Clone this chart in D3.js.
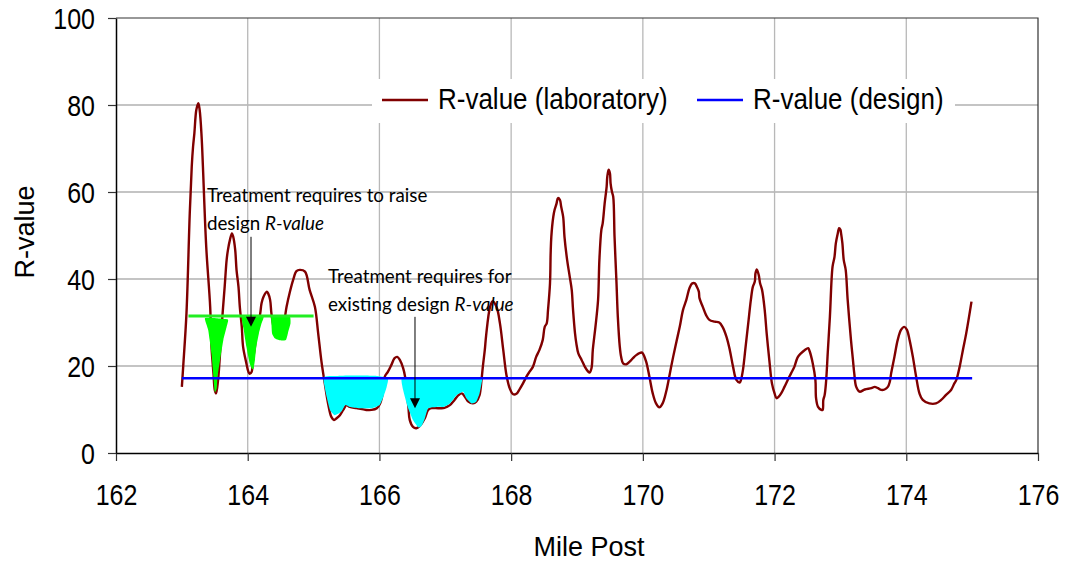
<!DOCTYPE html>
<html><head><meta charset="utf-8">
<script src="https://cdn.jsdelivr.net/npm/d3@7"></script>
<style>body{margin:0;background:#fff;} svg{display:block;}</style>
</head><body><svg id="c" width="1076" height="567"></svg>
<script>
// ---------- data ----------
const xTicks = [162,164,166,168,170,172,174,176];
const yTicks = [0,20,40,60,80,100];

const labMile = [163.00,163.02,163.07,163.12,163.15,163.17,163.19,163.22,163.25,163.27,163.30,163.32,163.37,163.43,163.45,163.48,163.50,163.52,163.55,163.58,163.60,163.65,163.68,163.70,163.73,163.76,163.78,163.81,163.83,163.86,163.88,163.91,163.93,163.98,164.01,164.03,164.06,164.08,164.11,164.13,164.19,164.21,164.24,164.29,164.31,164.34,164.36,164.40,164.45,164.50,164.55,164.59,164.64,164.69,164.74,164.79,164.87,164.94,165.02,165.07,165.12,165.17,165.22,165.27,165.31,165.35,165.40,165.45,165.50,165.55,165.65,165.80,165.88,165.96,166.01,166.06,166.08,166.13,166.18,166.23,166.27,166.31,166.36,166.39,166.41,166.44,166.46,166.51,166.56,166.61,166.69,166.74,166.79,166.89,166.97,167.02,167.07,167.14,167.20,167.25,167.30,167.35,167.42,167.47,167.52,167.55,167.57,167.60,167.62,167.68,167.72,167.78,167.83,167.88,167.93,167.98,168.03,168.08,168.13,168.18,168.23,168.28,168.33,168.38,168.43,168.48,168.51,168.54,168.56,168.59,168.60,168.61,168.64,168.66,168.69,168.71,168.74,168.76,168.79,168.81,168.85,168.89,168.92,168.94,168.97,168.99,169.02,169.07,169.12,169.17,169.19,169.22,169.24,169.28,169.32,169.34,169.37,169.39,169.42,169.45,169.46,169.48,169.50,169.51,169.53,169.55,169.57,169.60,169.62,169.65,169.67,169.70,169.75,169.80,169.85,169.90,169.98,170.00,170.05,170.10,170.15,170.20,170.25,170.30,170.36,170.41,170.46,170.51,170.56,170.61,170.66,170.71,170.75,170.79,170.82,170.85,170.86,170.91,170.96,171.01,171.09,171.16,171.21,171.27,171.32,171.37,171.42,171.47,171.49,171.52,171.56,171.60,171.64,171.67,171.70,171.71,171.73,171.76,171.78,171.81,171.85,171.88,171.92,171.96,172.00,172.03,172.06,172.10,172.15,172.20,172.25,172.30,172.35,172.40,172.46,172.51,172.53,172.58,172.62,172.63,172.66,172.71,172.73,172.74,172.76,172.78,172.81,172.84,172.88,172.91,172.93,172.96,172.98,173.00,173.01,173.03,173.05,173.08,173.11,173.16,173.19,173.21,173.24,173.29,173.37,173.47,173.52,173.57,173.62,173.67,173.72,173.75,173.77,173.82,173.87,173.92,173.97,174.01,174.05,174.10,174.15,174.20,174.25,174.35,174.45,174.53,174.60,174.68,174.73,174.76,174.81,174.86,174.91,174.99];
const labR = [15.2,19.8,32.1,55.1,65.8,70.4,73.5,78.9,80.4,78.9,72.7,65.8,47.4,33.6,24.4,18.3,14.5,13.7,16.8,22.9,28.3,38.2,44.4,46.7,49.0,50.5,49.7,46.7,42.1,38.2,33.6,29.0,24.4,20.6,18.7,18.2,18.7,21.4,24.4,27.5,32.1,34.4,35.9,37.1,36.7,35.2,32.1,28.5,27.0,27.5,30.0,33.6,37.0,39.8,41.8,42.1,41.7,37.5,33.6,27.5,21.0,16.0,11.4,8.3,7.6,8.0,8.7,9.9,11.0,10.6,10.3,9.9,9.9,10.3,11.4,14.5,17.5,18.7,20.2,21.8,22.1,21.4,19.5,17.5,14.5,10.6,7.6,6.0,5.7,6.2,8.0,9.9,10.3,10.3,10.3,10.6,11.0,12.2,13.3,13.7,12.9,11.8,11.4,11.8,13.3,16.8,19.8,23.7,27.0,33.6,34.9,33.5,29.8,23.7,17.8,14.8,13.5,13.6,14.7,16.0,17.5,18.7,19.8,22.1,23.7,26.0,29.0,29.8,32.9,39.0,45.9,49.7,54.3,55.9,57.4,58.6,58.2,56.6,54.3,49.7,44.4,40.5,37.5,32.9,27.5,25.2,22.9,21.4,19.8,18.7,18.5,19.5,23.7,29.0,35.2,44.4,51.3,52.8,57.4,61.2,63.5,65.1,64.3,62.0,60.1,58.9,49.7,39.0,31.3,24.4,22.1,20.6,20.4,21.0,21.8,22.5,23.1,22.9,21.0,17.5,13.7,11.4,10.5,11.4,14.5,18.3,22.1,25.6,29.0,32.9,35.2,38.0,39.0,39.0,38.2,37.1,35.6,33.6,31.7,30.6,30.2,30.0,29.0,26.7,23.7,19.8,16.8,16.2,16.8,19.1,24.4,29.8,35.2,38.2,39.4,41.3,42.2,40.9,39.0,37.5,32.9,27.5,21.4,16.0,13.7,12.6,12.9,13.7,15.2,16.8,18.3,19.8,22.0,22.9,23.7,24.1,23.5,20.6,16.8,12.6,10.6,9.9,9.9,12.2,13.3,16.0,23.7,31.3,42.8,45.1,48.2,50.5,51.7,51.3,50.5,48.2,44.4,42.1,35.2,26.0,21.4,18.3,15.2,14.1,14.6,14.9,15.2,14.9,14.5,14.6,15.2,16.4,18.3,22.1,26.0,28.3,29.0,28.3,26.0,22.1,17.5,13.7,12.2,11.4,11.4,12.2,13.3,14.5,16.0,16.8,19.8,23.7,27.5,34.8];

const designMile = [163.0, 175.0];
const designR = [17.2, 17.2];

const raiseMile = [163.1, 165.0];
const raiseR = [31.5, 31.5];

// hand-drawn treatment zones (mile, R)
const greenZone1 = [[163.35,31.0],[163.52,31.0],[163.70,30.7],[163.68,29.0],[163.63,26.0],[163.58,21.4],[163.54,17.5],[163.53,14.9],[163.50,14.0],[163.48,17.5],[163.45,22.9],[163.40,28.3]];
const greenZone2 = [[163.91,31.3],[164.08,31.3],[164.24,31.3],[164.21,29.8],[164.17,27.5],[164.13,24.4],[164.11,21.4],[164.09,19.5],[164.07,19.3],[164.03,20.6],[163.98,24.4],[163.94,28.3]];
const greenZone3 = [[164.36,31.3],[164.50,31.3],[164.64,31.3],[164.65,29.8],[164.61,27.5],[164.58,26.0],[164.49,25.9],[164.41,26.4],[164.37,27.5],[164.36,29.8]];
const cyanZone1 = [[165.15,17.4],[165.35,17.7],[165.55,17.8],[165.75,17.8],[165.96,17.7],[166.13,17.2],[166.11,15.2],[166.06,12.9],[166.00,11.0],[165.88,10.3],[165.70,10.3],[165.55,10.6],[165.48,11.0],[165.42,9.5],[165.32,8.7],[165.25,9.9],[165.20,12.9]];
const cyanZone2 = [[166.34,17.2],[166.60,17.4],[166.90,17.4],[167.25,17.4],[167.55,17.2],[167.55,16.0],[167.52,13.7],[167.47,11.8],[167.40,11.4],[167.32,12.6],[167.27,14.1],[167.17,13.3],[167.07,11.4],[166.97,10.6],[166.87,10.6],[166.74,10.3],[166.69,8.0],[166.64,6.2],[166.59,5.9],[166.51,7.6],[166.43,10.6],[166.36,14.5]];

// annotations (mile, R)
const note1Lines = [["Treatment requires to raise", ""], ["design ", "R-value"]];
const note1Pos = [163.38, 57.7, 51.3];
const note2Lines = [["Treatment requires for", ""], ["existing design ", "R-value"]];
const note2Pos = [165.22, 39.1, 32.6];
const arrows = [
  {mile: 164.05, from: 49.7, to: 29.0},
  {mile: 166.54, from: 31.3, to: 10.3}
];

const legendItems = [
  {label: "R-value (laboratory)", color: "#800000"},
  {label: "R-value (design)", color: "#0000ff"}
];

// ---------- chart ----------
const svg = d3.select('#c');
svg.append('rect').attr('width',1076).attr('height',567).attr('fill','#fff');
const x = d3.scaleLinear().domain([162,176]).range([116,1038]);
const y = d3.scaleLinear().domain([0,100]).range([453,18]);
const FONT = "'Liberation Sans', Arial, sans-serif";
const SY = 1.2;

// grid
const grid = svg.append('g');
grid.selectAll('line.h').data(yTicks.filter(d=>d>0 && d<100)).join('line')
  .attr('x1',x(162)).attr('x2',x(176)).attr('y1',d=>y(d)).attr('y2',d=>y(d))
  .attr('stroke','#b0b0b0').attr('stroke-width',1.3);
grid.selectAll('line.v').data(xTicks.filter(d=>d>162 && d<176)).join('line')
  .attr('y1',y(0)).attr('y2',y(100)).attr('x1',d=>x(d)).attr('x2',d=>x(d))
  .attr('stroke','#b8b8b8').attr('stroke-width',1.3);
// frame top/right
svg.append('path')
  .attr('d',`M${x(162)},${y(100)}H${x(176)}V${y(0)}`)
  .attr('fill','none').attr('stroke','#333').attr('stroke-width',1.2);

// axes
const ax = svg.append('g').attr('transform',`translate(0,${y(0)})`)
  .call(d3.axisBottom(x).tickValues(xTicks).tickFormat(d3.format('d')).tickSize(8).tickSizeOuter(0));
const ay = svg.append('g').attr('transform',`translate(${x(162)},0)`)
  .call(d3.axisLeft(y).tickValues(yTicks).tickSize(8).tickSizeOuter(0));
[ax,ay].forEach(a=>{
  a.select('.domain').attr('stroke','#000').attr('stroke-width',1.5);
  a.selectAll('.tick line').attr('stroke','#333').attr('stroke-width',1.2);
  a.selectAll('.tick text').attr('font-family',FONT).attr('font-size',25).attr('fill','#000');
});
ax.selectAll('.tick text').attr('dy',null).attr('y',52/SY).attr('transform',`scale(1,${SY})`);
ay.selectAll('.tick text').attr('dy',null).attr('x',-21).attr('y',10.7/SY).attr('transform',`scale(1,${SY})`);

// axis titles
svg.append('text').attr('x',589).attr('y',556).attr('text-anchor','middle')
  .attr('font-family',FONT).attr('font-size',27).text('Mile Post');
svg.append('text').attr('transform','translate(34,232) rotate(-90)').attr('text-anchor','middle')
  .attr('font-family',FONT).attr('font-size',27).text('R-value');

// lab line
const line = d3.line().x(d=>x(d[0])).y(d=>y(d[1])).curve(d3.curveCatmullRom.alpha(0.5));
const labData = labMile.map((m,i)=>[m,labR[i]]);
svg.append('path').datum(labData).attr('d',line).attr('fill','none')
  .attr('stroke','#800000').attr('stroke-width',2.4).attr('stroke-linejoin','round');

// zones
const poly = d3.line().x(d=>x(d[0])).y(d=>y(d[1])).curve(d3.curveCardinalClosed.tension(0.55));
[greenZone1,greenZone2,greenZone3].forEach(z=>svg.append('path').datum(z).attr('d',poly).attr('fill','#00ff00'));
[cyanZone1,cyanZone2].forEach(z=>svg.append('path').datum(z).attr('d',poly).attr('fill','#00ffff'));

// raise line (green)
const straight = d3.line().x(d=>x(d[0])).y(d=>y(d[1]));
svg.append('path').datum(raiseMile.map((m,i)=>[m,raiseR[i]])).attr('d',straight)
  .attr('stroke','#22ee22').attr('stroke-width',3).attr('fill','none');
// design line
svg.append('path').datum(designMile.map((m,i)=>[m,designR[i]])).attr('d',straight)
  .attr('stroke','#0000ff').attr('stroke-width',2.4).attr('fill','none');

// annotations
const AFONT = "Lato, 'Open Sans', sans-serif";
function note(lines,pos){
  lines.forEach((ln,i)=>{
    const t = svg.append('text').attr('x',x(pos[0])).attr('y',y(pos[1+i]))
      .attr('font-family',AFONT).attr('font-size',18.8).attr('fill','#000');
    t.append('tspan').text(ln[0]);
    if(ln[1]) t.append('tspan').attr('font-style','italic').text(ln[1]);
  });
}
note(note1Lines,note1Pos);
note(note2Lines,note2Pos);
arrows.forEach(a=>{
  const ax0 = x(a.mile);
  svg.append('line').attr('x1',ax0).attr('x2',ax0).attr('y1',y(a.from)).attr('y2',y(a.to)-8)
    .attr('stroke','#000').attr('stroke-width',1);
  svg.append('path').attr('d',`M${ax0-5},${y(a.to)-10}L${ax0+5},${y(a.to)-10}L${ax0},${y(a.to)}Z`).attr('fill','#000');
});

// legend
svg.append('rect').attr('x',372).attr('y',79).attr('width',583).attr('height',44).attr('fill','#fff');
const legX = [382, 697];
legendItems.forEach((it,i)=>{
  svg.append('line').attr('x1',legX[i]).attr('x2',legX[i]+46).attr('y1',100).attr('y2',100)
    .attr('stroke',it.color).attr('stroke-width',2.4);
  svg.append('text').attr('transform',`translate(${legX[i]+56},109) scale(1,1.15)`)
    .attr('font-family',FONT).attr('font-size',26).text(it.label);
});
</script></body></html>
